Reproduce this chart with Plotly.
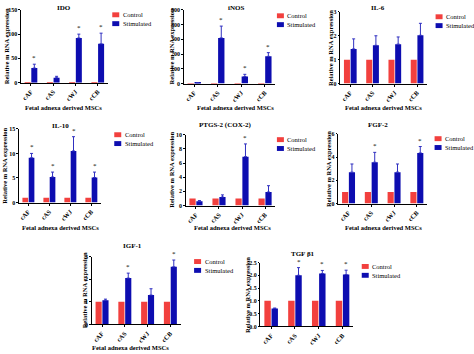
import plotly.graph_objects as go

# ---------------- data ----------------
categories = ["cAF", "cAS", "cWJ", "cCB"]

ido_control = [1, 1, 1, 1]
ido_stim = [30, 10, 92, 80]
ido_err = [8, 3, 8, 22]
ido_sig = [1, 0, 1, 1]

inos_control = [1, 1, 1, 1]
inos_stim = [5, 310, 48, 185]
inos_err = [2, 80, 15, 25]
inos_sig = [0, 1, 1, 1]

il6_control = [1, 1, 1, 1]
il6_stim = [1.45, 1.6, 1.65, 2.02]
il6_err = [0.42, 0.4, 0.3, 0.5]
il6_sig = [0, 0, 0, 0]

il10_control = [1, 1, 1, 1]
il10_stim = [9.1, 5.2, 10.5, 5.1]
il10_err = [0.9, 1.0, 2.9, 1.1]
il10_sig = [1, 1, 1, 1]

ptgs_control = [1, 1, 1, 1]
ptgs_stim = [0.6, 1.2, 6.9, 1.9]
ptgs_err = [0.1, 0.3, 1.8, 0.9]
ptgs_sig = [0, 0, 1, 0]

fgf_control = [1, 1, 1, 1]
fgf_stim = [2.7, 3.55, 2.7, 4.35]
fgf_err = [0.7, 0.85, 0.7, 0.55]
fgf_sig = [0, 1, 0, 1]

igf_control = [1, 1, 1, 1]
igf_stim = [1.07, 2.05, 1.3, 2.55]
igf_err = [0.05, 0.22, 0.28, 0.3]
igf_sig = [0, 1, 0, 1]

tgf_control = [1, 1, 1, 1]
tgf_stim = [0.7, 2.0, 2.07, 2.03]
tgf_err = [0.02, 0.3, 0.12, 0.17]
tgf_sig = [0, 1, 1, 1]

titles = ["IDO", "iNOS", "IL-6", "IL-10", "PTGS-2 (COX-2)", "FGF-2", "IGF-1", "TGF β1"]
yticks = [
    [0, 50, 100, 150],
    [0, 100, 200, 300, 400, 500],
    [0, 1, 2, 3],
    [0, 5, 10, 15],
    [0, 2, 4, 6, 8, 10],
    [0, 2, 4, 6],
    [0, 1, 2, 3],
    [0, 0.5, 1.0, 1.5, 2.0, 2.5],
]
ytickformats = ["d", "d", "d", "d", "d", "d", "d", ".1f"]
series = [
    (ido_control, ido_stim, ido_err, ido_sig),
    (inos_control, inos_stim, inos_err, inos_sig),
    (il6_control, il6_stim, il6_err, il6_sig),
    (il10_control, il10_stim, il10_err, il10_sig),
    (ptgs_control, ptgs_stim, ptgs_err, ptgs_sig),
    (fgf_control, fgf_stim, fgf_err, fgf_sig),
    (igf_control, igf_stim, igf_err, igf_sig),
    (tgf_control, tgf_stim, tgf_err, tgf_sig),
]
legend_names = ["Control", "Stimulated"]
xaxis_title = "Fetal adnexa derived MSCs"
yaxis_title = "Relative m RNA expression"

# ---------------- layout (pixels) ----------------
W, H = 474, 354
RED = "#f2403e"
BLUE = "#0d0db0"
SERIF = "Liberation Serif"

# plot box: x0, x1, ytop, ybottom
boxes = [
    (20, 107, 7, 81),
    (183, 275, 7, 82),
    (340, 427, 9, 82),
    (18, 100, 128, 203),
    (185, 275, 134, 206),
    (338, 427, 133, 204),
    (91, 180, 258, 327),
    (260, 353, 264, 329),
]
title_pos = [(63, 5), (235, 5), (378, 5), (60, 125), (225, 124), (378, 124), (132, 247), (303, 255)]
xtitle_pos = [(63, 106), (235, 106), (383, 106), (60, 228), (232, 228), (383, 228), (130, 350), None]
ytitle_x = [5, 171, 330, 4, 170, 328, 84, 247]
legend_pos = [(115, 12), (280, 13), (439, 14), (117, 134), (280, 139), (438, 138), (197, 263), (365, 268)]

XR = (-0.45, 3.45)
BARGAP, GROUPGAP = 0.4, 0.1

fig = go.Figure()
shapes = []
annotations = []


def px_x(v):
    return v / W


def px_y(v):
    return 1 - v / H


for i, (ctrl, stim, err, sig) in enumerate(series):
    n = i + 1
    xa = "x" if n == 1 else f"x{n}"
    ya = "y" if n == 1 else f"y{n}"
    fig.add_trace(go.Bar(x=categories, y=ctrl, name=legend_names[0], marker_color=RED,
                         marker_line_width=0, xaxis=xa, yaxis=ya, showlegend=False))
    fig.add_trace(go.Bar(x=categories, y=stim, name=legend_names[1], marker_color=BLUE,
                         marker_line_width=0, xaxis=xa, yaxis=ya, showlegend=False,
                         error_y=dict(type="data", array=err, arrayminus=[0] * len(err),
                                      symmetric=False, color="#3030c0", thickness=1, width=1.5)))
    x0, x1, yt, yb = boxes[i]
    ymax = yticks[i][-1]
    fig.layout[f"xaxis{n if n > 1 else ''}"] = dict(
        domain=[px_x(x0), px_x(x1)], anchor=ya, type="category",
        categoryorder="array", categoryarray=categories, range=list(XR),
        showline=True, linecolor="black", linewidth=1, ticks="outside", ticklen=2,
        tickcolor="black", tickangle=-45, showgrid=False,
        tickfont=dict(family=SERIF, size=6.5, color="black", weight="bold"),
    )
    fig.layout[f"yaxis{n if n > 1 else ''}"] = dict(
        domain=[px_y(yb), px_y(yt)], anchor=xa, range=[0, ymax],
        tickvals=yticks[i], tickformat=ytickformats[i],
        showline=True, linecolor="black", linewidth=1, ticks="outside", ticklen=1.5,
        tickcolor="black", showgrid=False, zeroline=False,
        tickfont=dict(family=SERIF, size=6, color="black", weight="bold"),
    )
    # significance stars
    catw = (x1 - x0) / (XR[1] - XR[0])
    slot = catw * (1 - BARGAP) / 2
    shift = slot / 2
    for c, s, e, g in zip(categories, stim, err, sig):
        if g:
            annotations.append(dict(x=c, y=s + e, xref=xa, yref=ya, text="*", showarrow=False,
                                    xshift=shift, yshift=0, yanchor="bottom",
                                    font=dict(family=SERIF, size=7, color="black")))
    # titles
    tx, ty = title_pos[i]
    annotations.append(dict(x=px_x(tx), y=px_y(ty), xref="paper", yref="paper", text=titles[i],
                            showarrow=False, xanchor="center", yanchor="middle",
                            font=dict(family=SERIF, size=7, color="black", weight="bold")))
    if xtitle_pos[i] is not None:
        qx, qy = xtitle_pos[i]
        annotations.append(dict(x=px_x(qx), y=px_y(qy), xref="paper", yref="paper", text=xaxis_title,
                                showarrow=False, xanchor="center", yanchor="middle",
                                font=dict(family=SERIF, size=6.5, color="black", weight="bold")))
    annotations.append(dict(x=px_x(ytitle_x[i]), y=px_y((yt + yb) / 2), xref="paper", yref="paper",
                            text=yaxis_title, textangle=-90, showarrow=False,
                            xanchor="center", yanchor="middle",
                            font=dict(family=SERIF, size=6.5, color="black", weight="bold")))
    # legend
    lx, ly = legend_pos[i]
    for k, (nm, col) in enumerate(zip(legend_names, [RED, BLUE])):
        cy = ly + k * 9
        shapes.append(dict(type="rect", xref="paper", yref="paper",
                           x0=px_x(lx - 3.5), x1=px_x(lx + 3.5), y0=px_y(cy + 2.5), y1=px_y(cy - 2.5),
                           fillcolor=col, line=dict(width=0)))
        annotations.append(dict(x=px_x(lx + 5), y=px_y(cy), xref="paper", yref="paper", text=nm,
                                showarrow=False, xanchor="left", yanchor="middle",
                                font=dict(family=SERIF, size=6.5, color="black")))

fig.update_layout(
    width=W, height=H, margin=dict(l=0, r=0, t=0, b=0),
    paper_bgcolor="white", plot_bgcolor="white",
    barmode="group", bargap=BARGAP, bargroupgap=GROUPGAP,
    showlegend=False, shapes=shapes, annotations=annotations,
)

fig.write_html("out.html")
